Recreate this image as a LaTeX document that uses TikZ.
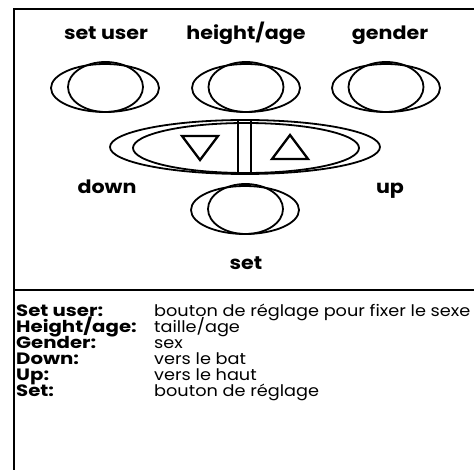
\documentclass[tikz,border=0pt]{standalone}
\usepackage{fontspec}
\setmainfont[FakeStretch=1.12]{Poppins}
\newfontfamily\legfont[FakeStretch=1.2]{Poppins}
\newfontfamily\descfont[FakeStretch=1.11]{Poppins}
\usetikzlibrary{shapes.geometric}
\begin{document}
\begin{tikzpicture}[x=1bp,y=-1bp,
  frame/.style={line width=2bp},
  btn/.style={draw, ellipse, line width=1.8bp, inner sep=0pt},
  outerbtn/.style={btn, minimum width=108bp, minimum height=48bp},
  innerbtn/.style={btn, minimum width=75bp, minimum height=50bp},
  sepline/.style={line width=1.8bp},
  tri/.style={line width=2.3bp, line join=miter},
  lab/.style={font=\bfseries\fontsize{18.5}{18.5}\selectfont, anchor=base, inner sep=0pt},
  key/.style={font=\legfont\bfseries\fontsize{16.5}{16}\selectfont, anchor=base west, inner sep=0pt},
  desc/.style={font=\descfont\fontsize{16}{16}\selectfont, anchor=base west, inner sep=0pt}
]
\useasboundingbox (0,0) rectangle (474,470);
% frame
\coordinate (tl) at (14,9);
\coordinate (tr) at (474,9);
\coordinate (bl) at (14,470);
\coordinate (ml) at (14,290);
\coordinate (mr) at (474,290);
\draw[frame] (tr) -- (tl) -- (bl);
\draw[frame] (ml) -- (mr);
% top buttons
\node[outerbtn] (suO) at (105,88) {};
\node[innerbtn] (suI) at (105.5,87) {};
\node[outerbtn] (haO) at (246,88) {};
\node[innerbtn] (haI) at (246,87) {};
\node[outerbtn] (gO) at (386,88) {};
\node[innerbtn] (gI) at (386,87) {};
% up/down button
\node[btn, minimum width=270bp, minimum height=54bp] (udO) at (245,147) {};
\node[btn, minimum width=226bp, minimum height=50bp] (udI) at (246,148) {};
\coordinate (va) at (238,0);
\coordinate (vb) at (251,0);
\draw[sepline] (va |- udO.north) -- (va |- udO.south);
\draw[sepline] (vb |- udO.north) -- (vb |- udO.south);
\draw[tri] (182,136) -- (218,136) -- (200,160) -- cycle;
\draw[tri] (272,159) -- (308,159) -- (290,135) -- cycle;
% set button
\node[outerbtn] (sO) at (245,210) {};
\node[innerbtn] (sI) at (245.5,209) {};
% labels
\node[lab] (lsu) at (106,40) {set user};
\node[lab] (lha) at (246,40) {height/age};
\node[lab] (lg) at (390,40) {gender};
\node[lab] (ld) at (107,194) {down};
\node[lab] (lu) at (390,194) {up};
\node[lab] (ls) at (246,269) {set};
% legend
\node[key] (k1) at (16,316) {Set user:};
\node[key] (k2) at (16,332) {Height/age:};
\node[key] (k3) at (16,348) {Gender:};
\node[key] (k4) at (16,364) {Down:};
\node[key] (k5) at (16,380) {Up:};
\node[key] (k6) at (16,396) {Set:};
\node[desc] (d1) at (154,316) {bouton de réglage pour fixer le sexe};
\node[desc] (d2) at (154,332) {taille/age};
\node[desc] (d3) at (154,348) {sex};
\node[desc] (d4) at (154,364) {vers le bat};
\node[desc] (d5) at (154,380) {vers le haut};
\node[desc] (d6) at (154,396) {bouton de réglage};
\end{tikzpicture}
\end{document}
